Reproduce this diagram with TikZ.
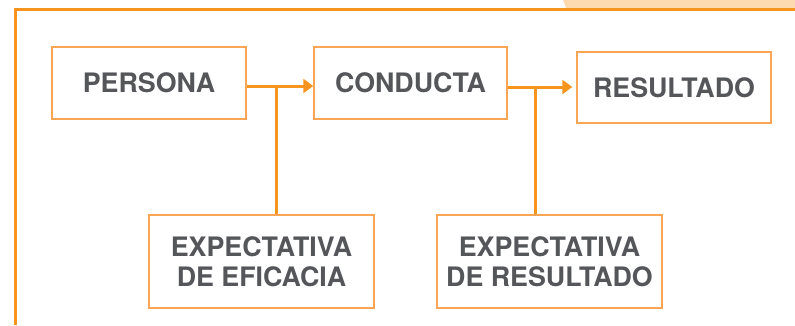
\documentclass[tikz,border=0pt]{standalone}
\usepackage{fontspec}
\setmainfont{TeX Gyre Heros}
\usetikzlibrary{arrows.meta, positioning}
\definecolor{naranja}{HTML}{F7941D}
\definecolor{naranjaclaro}{HTML}{F9A553}
\definecolor{fondo}{HTML}{FDDAB0}
\definecolor{gris}{HTML}{55565A}
\newcommand\fila{83}
\newcommand\abajo{261.5}

\begin{document}
\begin{tikzpicture}[x=1pt, y=-1pt,
    caja/.style={draw=naranjaclaro, line width=1.5pt, inner sep=0pt, align=center,
        text=gris, font=\fontsize{26.8}{30}\selectfont\bfseries},
    flecha/.style={draw=naranja, line width=3pt, -{Triangle[length=10pt, width=14pt]}},
    linea/.style={draw=naranja, line width=3pt}]

    \useasboundingbox (0,0) rectangle (795,325);

    % Marco
    \fill[fondo] (563,0) -- (566,8) -- (795,8) -- (795,0) -- cycle;
    \draw[naranja, line width=3pt] (15.5,325) -- (15.5,9.5) -- (795,9.5);

    % Fila de arriba
    \node at (149, \fila) [caja, minimum width=194pt, minimum height=72pt] (persona) {PERSONA};
    \node at (410.5, \fila) [caja, minimum width=193pt, minimum height=72pt] (conducta) {CONDUCTA};
    \node at (674, \fila + 4.5) [caja, minimum width=194pt, minimum height=71pt] (resultado) {RESULTADO};

    % Expectativas
    \node at (261.5, \abajo) [caja, minimum width=225pt, minimum height=93pt] (eficacia) {EXPECTATIVA\\DE EFICACIA};
    \node at (549.5, \abajo) [caja, minimum width=225pt, minimum height=93pt] (expres) {EXPECTATIVA\\DE RESULTADO};

    \coordinate (j1) at (276, \fila + 3);
    \coordinate (j2) at (535, \fila + 4);

    \draw[flecha] ([yshift=-3pt]persona.east) -- ([yshift=-3pt]persona.east -| conducta.west);
    \draw[flecha, shorten >=4pt] ([yshift=-4pt]conducta.east) -- ([yshift=-4pt]conducta.east -| resultado.west);
    \draw[linea] (j1) -- (j1 |- eficacia.north);
    \draw[linea] (j2) -- (j2 |- expres.north);

\end{tikzpicture}
\end{document}
